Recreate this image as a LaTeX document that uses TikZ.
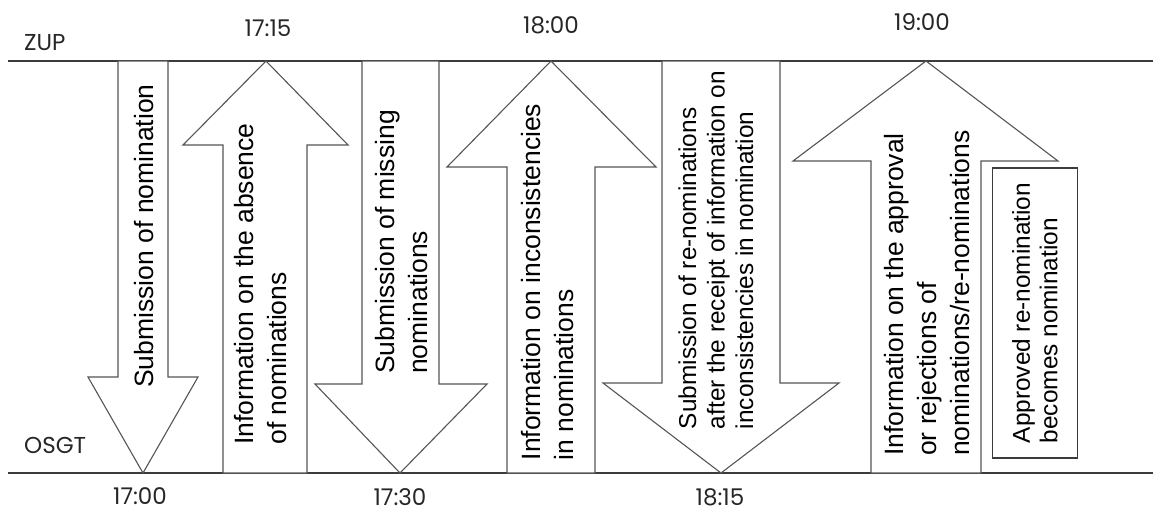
\documentclass[tikz,border=0pt]{standalone}
\usepackage{fontspec}
\setmainfont{Liberation Sans}
\newfontfamily\labelfont{Poppins}
\definecolor{linegray}{HTML}{3C3C3C}
\definecolor{arrowgray}{HTML}{555555}
\begin{document}
\begin{tikzpicture}
[x=1pt,y=-1pt,%
  arrowshape/.style={draw=arrowgray,fill=white,line width=1.1pt,line join=miter},%
  arrowtext/.style={rotate=90,align=left,inner sep=0pt,font=\fontsize{26.5}{33}\selectfont},%
  smalltext/.style={rotate=90,align=left,inner sep=0pt,font=\fontsize{24.4}{28.5}\selectfont},%
  timelabel/.style={inner sep=0pt,text=black!85,font=\labelfont\fontsize{23}{26}\selectfont}]
\useasboundingbox (0,0) rectangle (1153,512);
% time lines
\coordinate (zupstart) at (8,61);
\coordinate (zupend) at (1153,61);
\coordinate (osgtstart) at (8,473);
\coordinate (osgtend) at (1153,473);
\draw[linegray,line width=1.2pt] (zupstart) -- (zupend);
\draw[linegray,line width=1.2pt] (osgtstart) -- (osgtend);
\node[timelabel,anchor=west] (zup) at (24,43) {ZUP};
\node[timelabel,anchor=west] (osgt) at (24,445) {OSGT};
% arrows
\draw[arrowshape] (118,61) -- (118,377) -- (88,377) -- (143,473)
  -- (198,377) -- (168,377) -- (168,61) -- cycle;
\draw[arrowshape] (223,473) -- (223,145) -- (183,145) -- (266,61)
  -- (348,145) -- (307,145) -- (307,473) -- cycle;
\draw[arrowshape] (362,61) -- (362,384) -- (315,384) -- (400,473)
  -- (487,384) -- (439,384) -- (439,61) -- cycle;
\draw[arrowshape] (507,473) -- (507,167) -- (447,167) -- (551,61)
  -- (656,167) -- (595,167) -- (595,473) -- cycle;
\draw[arrowshape] (662,61) -- (662,383) -- (603,383) -- (721,473)
  -- (839,383) -- (780,383) -- (780,61) -- cycle;
\draw[arrowshape] (871,473) -- (871,161) -- (793,161) -- (926,61)
  -- (1058,161) -- (981,161) -- (981,473) -- cycle;
% arrow texts
\node[arrowtext] (nomination) at (144,236) {Submission of nomination};
\node[arrowtext] (absence) at (261,284) {Information on the absence\\of nominations};
\node[arrowtext] (missing) at (402,242) {Submission of missing\\nominations};
\node[arrowtext] (inconsist) at (548,282) {Information on inconsistencies\\in nominations};
\node[smalltext] (renomination) at (716,250) {Submission of re-nominations\\after the receipt of information on\\inconsistencies in nomination};
\node[arrowtext] (approval) at (927,293) {Information on the approval\\or rejections of\\nominations/re-nominations};
\node[rotate=90,draw=linegray,line width=1.1pt,minimum width=290,minimum height=85,
  align=left,font=\fontsize{24.4}{27.5}\selectfont] (approved) at (1035,313)
  {Approved re-nomination\\becomes nomination};
% times
\node[timelabel] (t1715) at (268,28) {17:15};
\node[timelabel] (t1800) at (551,25) {18:00};
\node[timelabel] (t1900) at (922,22) {19:00};
\node[timelabel] (t1700) at (140,496) {17:00};
\node[timelabel] (t1730) at (400,497) {17:30};
\node[timelabel] (t1815) at (720,497) {18:15};
\end{tikzpicture}
\end{document}
